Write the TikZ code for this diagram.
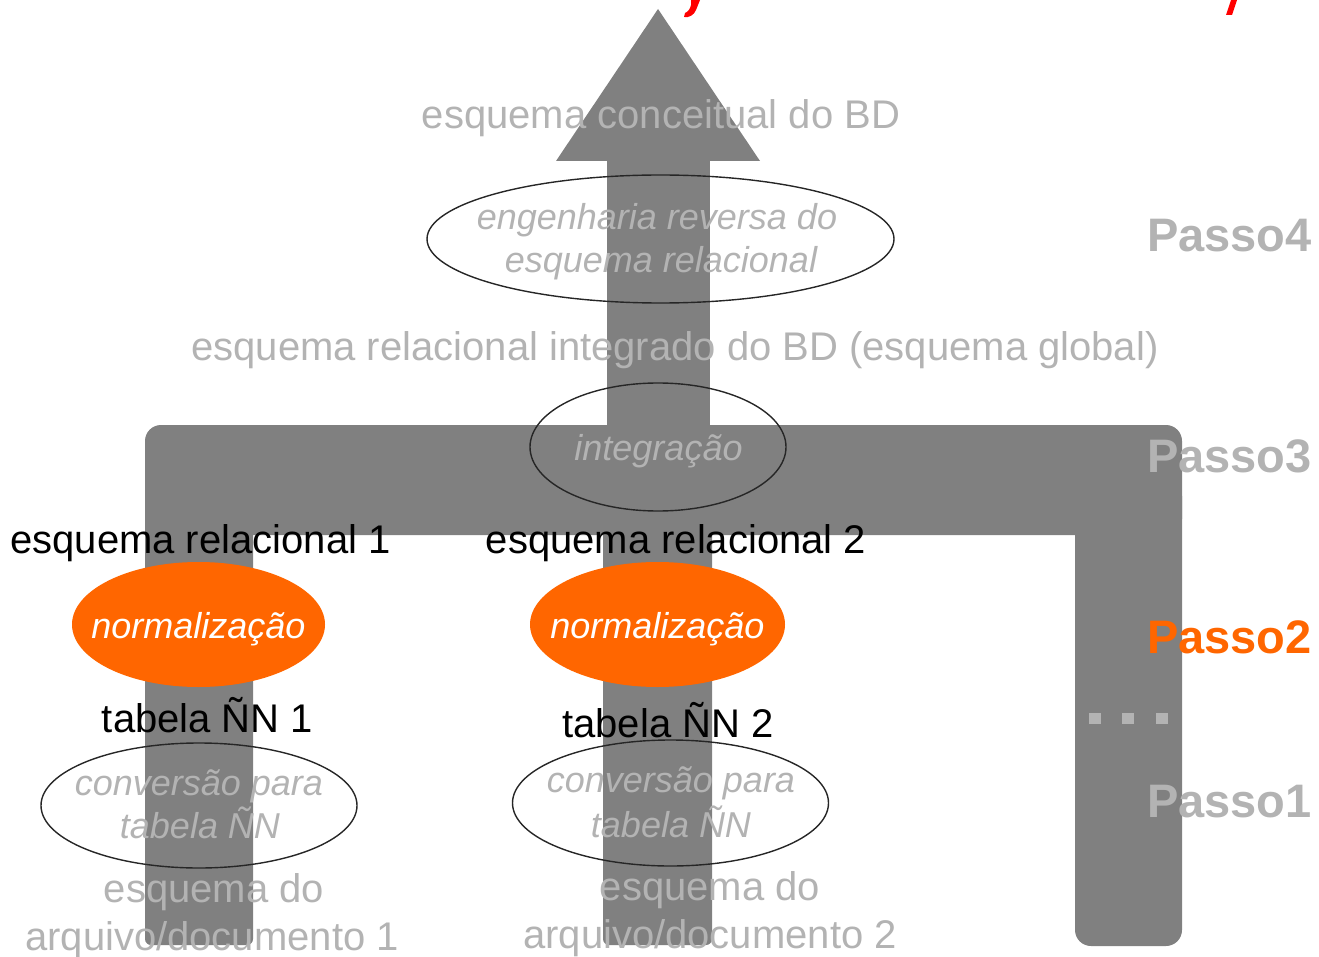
\documentclass[tikz,border=0pt]{standalone}
\usepackage{fontspec}
\setmainfont{Liberation Sans}
\usetikzlibrary{shapes.geometric}
\definecolor{band}{HTML}{808080}
\definecolor{pale}{HTML}{B3B3B3}
\definecolor{accent}{HTML}{FF6600}
\definecolor{title}{HTML}{FF0000}
\begin{document}
\begin{tikzpicture}[x=1pt,y=-1pt,
  txt/.style={inner sep=0pt, anchor=base},
  big/.style={txt, font=\fontsize{40}{48}\selectfont},
  ghost/.style={big, text=pale},
  dark/.style={big, text=black},
  step italic/.style={txt, font=\fontsize{36}{43}\selectfont\itshape},
  stepname/.style={txt, anchor=base west, font=\fontsize{47}{56}\selectfont\bfseries, text=pale},
  oval/.style={ellipse, draw=black!85, line width=1.4pt, inner sep=0pt},
  hot/.style={ellipse, fill=accent, draw=none, inner sep=0pt},
  dot/.style={fill=pale}]
\useasboundingbox (0,0) rectangle (1319,957);

% the big grey flow arrow: stems, cross bar and the arrow going up
\fill[band, rounded corners=16pt] (145,425) rectangle (1182,535);
\fill[band, rounded corners=6pt] (145,480) rectangle (253,945);
\fill[band, rounded corners=6pt] (603,480) rectangle (712,945);
\fill[band, rounded corners=16pt] (1075,480) rectangle (1182,946);
\fill[band] (607,150) rectangle (710,440);
\fill[band] (658,9) -- (760,161) -- (556,161) -- cycle;

% descenders of the heading, cut by the top edge
\fill[title] (691,0) -- (700,0) -- (696,10) .. controls (694,15) and (689,18) .. (684,17)
  -- (685,13) .. controls (688,12) and (690,9) .. (691,5) -- cycle;
\fill[title] (1231,0) -- (1237,0) -- (1232,15) -- (1226,15) -- cycle;

% top of the arrow
\node[ghost] (conc) at (661,129) {esquema conceitual do BD};
\node[oval, minimum width=467pt, minimum height=128pt] (rev) at (660.5,239) {};
\node[step italic, text=pale] (rev1) at (657,230) {engenharia reversa do};
\node[step italic, text=pale] (rev2) at (661,273) {esquema relacional};
\node[ghost] (glob) at (675,360) {esquema relacional integrado do BD (esquema global)};

% integration
\node[oval, minimum width=256pt, minimum height=128pt] (integ) at (658,447) {};
\node[step italic, text=pale] (integt) at (658.5,460) {integração};

% first source
\node[dark] (rel1) at (200.5,553) {esquema relacional 1};
\node[hot, minimum width=253pt, minimum height=125pt] (norm1) at (198.5,624.5) {};
\node[step italic, text=white] (norm1t) at (198.5,638) {normalização};
\node[dark] (tab1) at (207.5,732) {tabela ÑN 1};
\node[oval, minimum width=316pt, minimum height=125pt] (conv1) at (199,805.5) {};
\node[step italic, text=pale] (conv1a) at (199,795) {conversão para};
\node[step italic, text=pale] (conv1b) at (200,838) {tabela ÑN};
\node[ghost] (src1a) at (214,902) {esquema do};
\node[ghost] (src1b) at (212,950) {arquivo/documento 1};

% second source
\node[dark] (rel2) at (676,553) {esquema relacional 2};
\node[hot, minimum width=255pt, minimum height=125pt] (norm2) at (657.5,624.5) {};
\node[step italic, text=white] (norm2t) at (657.5,638) {normalização};
\node[dark] (tab2) at (668,737) {tabela ÑN 2};
\node[oval, minimum width=316pt, minimum height=126pt] (conv2) at (670.5,803) {};
\node[step italic, text=pale] (conv2a) at (671,792) {conversão para};
\node[step italic, text=pale] (conv2b) at (671,837) {tabela ÑN};
\node[ghost] (src2a) at (710,900) {esquema do};
\node[ghost] (src2b) at (710,948) {arquivo/documento 2};

% step labels
\node[stepname] (p4) at (1147,252) {Passo4};
\node[stepname] (p3) at (1147,472) {Passo3};
\node[stepname, text=accent] (p2) at (1147,653) {Passo2};
\node[stepname] (p1) at (1147,817) {Passo1};
\fill[dot] (1089,713) rectangle (1101,724);
\fill[dot] (1122,713) rectangle (1134,724);
\fill[dot] (1156,713) rectangle (1168,724);
\end{tikzpicture}
\end{document}
